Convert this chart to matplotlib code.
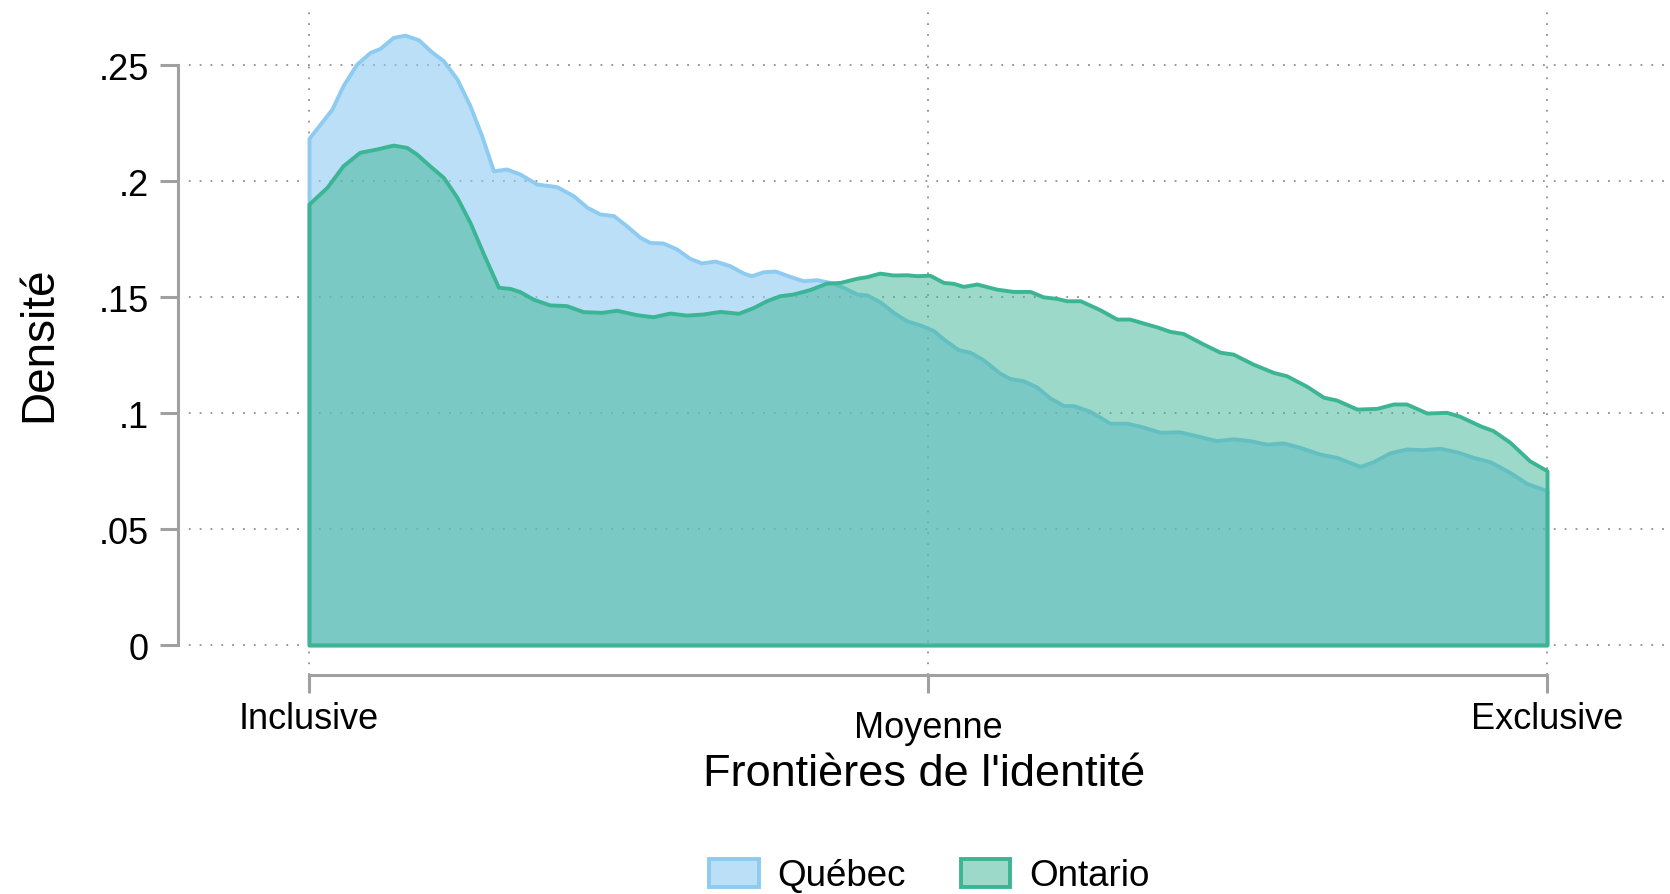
import matplotlib.pyplot as plt
from matplotlib.colors import to_rgba

plt.rcParams['font.family'] = ['Liberation Sans', 'DejaVu Sans']

# density curves (x: 1 = Inclusive, 2 = Moyenne, 3 = Exclusive)
quebec_x = [1.0, 1.037, 1.055, 1.077, 1.099, 1.115, 1.136, 1.155, 1.177, 1.198,
            1.217, 1.239, 1.260, 1.279, 1.298, 1.319, 1.341, 1.368, 1.400, 1.427,
            1.449, 1.470, 1.492, 1.513, 1.535, 1.551, 1.572, 1.594, 1.615, 1.634,
            1.656, 1.680, 1.702, 1.715, 1.734, 1.753, 1.777, 1.799, 1.820, 1.842,
            1.863, 1.885, 1.901, 1.922, 1.944, 1.966, 1.987, 2.009, 2.025, 2.049,
            2.068, 2.089, 2.116, 2.132, 2.154, 2.175, 2.197, 2.219, 2.235, 2.262,
            2.294, 2.321, 2.343, 2.375, 2.407, 2.434, 2.466, 2.493, 2.520, 2.547,
            2.574, 2.601, 2.633, 2.660, 2.698, 2.719, 2.746, 2.773, 2.800, 2.827,
            2.854, 2.881, 2.908, 2.940, 2.967, 3.0]
quebec_y = [0.2184, 0.2310, 0.2411, 0.2504, 0.2555, 0.2572, 0.2619, 0.2629, 0.2609, 0.2557,
            0.2519, 0.2440, 0.2325, 0.2195, 0.2044, 0.2052, 0.2030, 0.1987, 0.1976, 0.1937,
            0.1887, 0.1858, 0.1851, 0.1807, 0.1757, 0.1735, 0.1733, 0.1707, 0.1667, 0.1647,
            0.1655, 0.1635, 0.1603, 0.1592, 0.1609, 0.1612, 0.1589, 0.1570, 0.1575, 0.1563,
            0.1542, 0.1513, 0.1509, 0.1480, 0.1434, 0.1397, 0.1380, 0.1355, 0.1319, 0.1273,
            0.1262, 0.1230, 0.1172, 0.1149, 0.1139, 0.1113, 0.1065, 0.1032, 0.1032, 0.1007,
            0.0956, 0.0956, 0.0943, 0.0917, 0.0919, 0.0902, 0.0881, 0.0889, 0.0881, 0.0866,
            0.0871, 0.0852, 0.0823, 0.0809, 0.0770, 0.0790, 0.0828, 0.0845, 0.0842, 0.0848,
            0.0833, 0.0809, 0.0790, 0.0744, 0.0697, 0.0665]

ontario_x = [1.0, 1.029, 1.055, 1.082, 1.109, 1.136, 1.158, 1.174, 1.195, 1.217,
             1.239, 1.260, 1.282, 1.306, 1.325, 1.341, 1.362, 1.389, 1.416, 1.443,
             1.473, 1.497, 1.529, 1.556, 1.583, 1.610, 1.637, 1.664, 1.694, 1.718,
             1.739, 1.761, 1.782, 1.809, 1.836, 1.858, 1.885, 1.901, 1.922, 1.944,
             1.966, 1.982, 2.003, 2.025, 2.041, 2.057, 2.079, 2.111, 2.138, 2.165,
             2.186, 2.208, 2.224, 2.246, 2.278, 2.305, 2.326, 2.353, 2.369, 2.391,
             2.412, 2.445, 2.472, 2.493, 2.525, 2.558, 2.579, 2.612, 2.639, 2.660,
             2.693, 2.725, 2.752, 2.773, 2.806, 2.838, 2.859, 2.892, 2.913, 2.940,
             2.972, 3.0]
ontario_y = [0.1901, 0.1973, 0.2066, 0.2124, 0.2138, 0.2155, 0.2145, 0.2116, 0.2066, 0.2016,
             0.1930, 0.1822, 0.1685, 0.1542, 0.1537, 0.1523, 0.1491, 0.1466, 0.1463, 0.1437,
             0.1434, 0.1443, 0.1424, 0.1415, 0.1431, 0.1422, 0.1427, 0.1438, 0.1430, 0.1455,
             0.1484, 0.1506, 0.1513, 0.1532, 0.1560, 0.1563, 0.1581, 0.1588, 0.1603, 0.1595,
             0.1596, 0.1592, 0.1594, 0.1563, 0.1559, 0.1546, 0.1556, 0.1534, 0.1524, 0.1524,
             0.1501, 0.1494, 0.1484, 0.1484, 0.1445, 0.1405, 0.1405, 0.1384, 0.1372, 0.1352,
             0.1343, 0.1297, 0.1262, 0.1254, 0.1211, 0.1175, 0.1161, 0.1115, 0.1068, 0.1056,
             0.1017, 0.1020, 0.1039, 0.1039, 0.1000, 0.1003, 0.0986, 0.0945, 0.0924, 0.0874,
             0.0794, 0.0751]

x_ticks = [1, 2, 3]
x_labels = ["Inclusive", "Moyenne", "Exclusive"]
y_ticks = [0, 0.05, 0.1, 0.15, 0.2, 0.25]
y_labels = ["0", ".05", ".1", ".15", ".2", ".25"]

quebec_col = '#8ecbf0'
ontario_col = '#3cb594'
axis_col = '#a0a0a0'

fig = plt.figure(figsize=(16.7, 8.95), dpi=100)
ax = fig.add_axes([178 / 1670, 1 - 676 / 895, 1 - 178 / 1670, 664 / 895])

ax.fill_between(quebec_x, 0, quebec_y, facecolor=to_rgba(quebec_col, 0.6),
                edgecolor=quebec_col, linewidth=2.8, label='Québec', zorder=2)
ax.fill_between(ontario_x, 0, ontario_y, facecolor=to_rgba(ontario_col, 0.5),
                edgecolor=ontario_col, linewidth=2.8, label='Ontario', zorder=3)

ax.set_xlim(0.7884, 3.1987)
ax.set_ylim(-0.01293, 0.2733)

ax.set_xticks(x_ticks)
ax.set_xticklabels(x_labels, fontsize=26)
ax.set_yticks(y_ticks)
ax.set_yticklabels(y_labels, fontsize=26)
ax.tick_params(axis='both', direction='out', length=13, width=2.2, color=axis_col)
ax.tick_params(axis='y', pad=8)
ax.tick_params(axis='x', pad=6)
ax.xaxis.get_major_ticks()[1].set_pad(12)

ax.grid(True, linestyle=(0, (1, 5)), color='#909090', linewidth=1.3, zorder=0)
ax.set_axisbelow(True)

for s in ['top', 'right']:
    ax.spines[s].set_visible(False)
ax.spines['left'].set_bounds(0, 0.25)
ax.spines['bottom'].set_bounds(1, 3)
ax.spines['left'].set_color(axis_col)
ax.spines['bottom'].set_color(axis_col)
ax.spines['left'].set_linewidth(2.2)
ax.spines['bottom'].set_linewidth(2.2)

ax.set_ylabel("Densité", fontsize=33, labelpad=27)
ax.set_xlabel("Frontières de l'identité", fontsize=32.5, labelpad=6)

fig.legend(loc='center', bbox_to_anchor=(929 / 1670, 1 - 877 / 895), ncol=2,
           frameon=False, fontsize=26.5, handlelength=1.35, handleheight=0.8,
           handletextpad=0.5, columnspacing=1.5, borderpad=0.1)

fig.savefig('out.png', dpi=100)
